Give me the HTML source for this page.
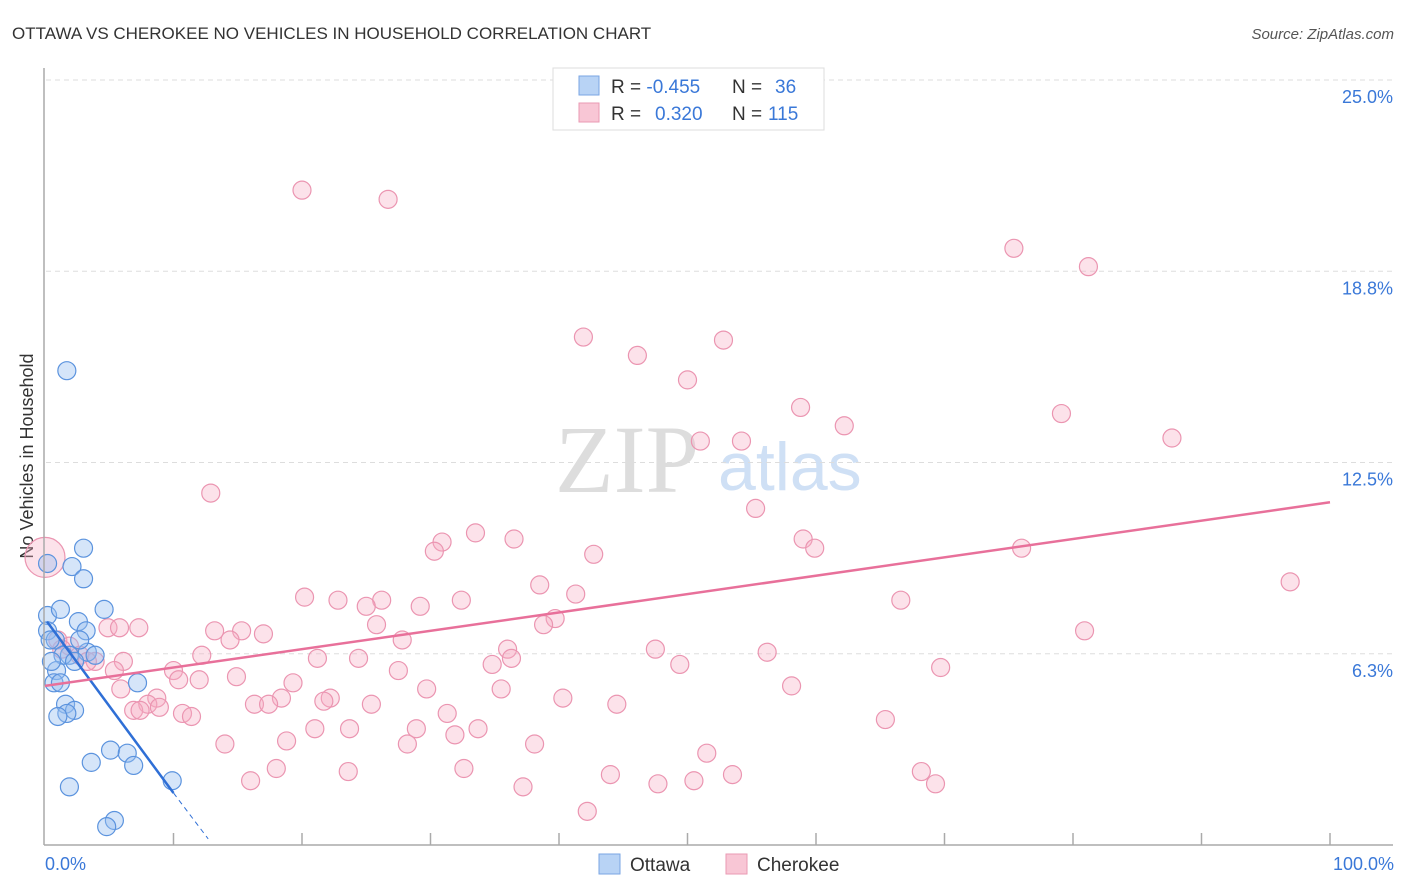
<!DOCTYPE html>
<html><head><meta charset="utf-8"><style>
body{margin:0;background:#fff;font-family:"Liberation Sans",sans-serif;}
#wrap{position:relative;width:1406px;height:892px;overflow:hidden;}
</style></head><body>
<div id="wrap">
<svg id="svg" width="1406" height="892" xmlns="http://www.w3.org/2000/svg">
<text x="12" y="39" font-size="17" fill="#333">OTTAWA VS CHEROKEE NO VEHICLES IN HOUSEHOLD CORRELATION CHART</text>
<text x="1394" y="39" font-size="15" fill="#555" text-anchor="end" font-style="italic">Source: ZipAtlas.com</text>
<text x="33" y="456" font-size="18" fill="#333" text-anchor="middle" transform="rotate(-90 33 456)">No Vehicles in Household</text>
<text x="555" y="492" font-size="96" fill="#ddd" font-family="Liberation Serif,serif">ZIP</text>
<text x="718" y="490" font-size="68" fill="#cfe0f5">atlas</text>
<g id="grid"></g><g id="pts"></g><g id="lines"></g>
<line x1="44" y1="68" x2="44" y2="845" stroke="#aaa" stroke-width="1.5"/>
<line x1="44" y1="845" x2="1393" y2="845" stroke="#aaa" stroke-width="1.5"/>
<text x="45" y="870" font-size="18" fill="#3a78d8">0.0%</text>
<text x="1394" y="870" font-size="18" fill="#3a78d8" text-anchor="end">100.0%</text>
<g>
<rect x="553" y="68" width="271" height="62" fill="#fff" stroke="#ddd"/>
<rect x="579" y="76" width="20" height="19" fill="#b8d3f5" stroke="#7aa6e3"/>
<rect x="579" y="103" width="20" height="19" fill="#f8c6d5" stroke="#ea9ab3"/>
<text x="611" y="93" font-size="19" fill="#333">R = <tspan fill="#3a78d8">-0.455</tspan><tspan x="732">N = </tspan><tspan x="775" fill="#3a78d8">36</tspan></text>
<text x="611" y="120" font-size="19" fill="#333">R = <tspan x="655" fill="#3a78d8">0.320</tspan><tspan x="732">N = </tspan><tspan x="768" fill="#3a78d8">115</tspan></text>
</g>
<g><rect x="599" y="854" width="21" height="20" fill="#b8d3f5" stroke="#7aa6e3"/><text x="630" y="871" font-size="19" fill="#333">Ottawa</text></g>
<g><rect x="726" y="854" width="21" height="20" fill="#f8c6d5" stroke="#ea9ab3"/><text x="757" y="871" font-size="19" fill="#333">Cherokee</text></g>
</svg></div>
<script>
const yTicks=[25,18.75,12.5,6.25];
const yTickLabels=["25.0%","18.8%","12.5%","6.3%"];
const ottawaX=[1.7,3.0,2.1,3.0,0.2,0.2,1.2,4.6,2.6,3.2,0.2,0.8,3.3,1.9,1.4,0.9,0.7,1.2,7.2,1.6,2.3,1.7,1.0,5.1,6.4,3.6,6.9,9.9,1.9,5.4,4.8,0.4,2.3,0.5,3.9,2.7];
const ottawaY=[15.5,9.7,9.1,8.7,9.2,7.5,7.7,7.7,7.3,7.0,7.0,6.7,6.3,6.2,6.2,5.7,5.3,5.3,5.3,4.6,4.4,4.3,4.2,3.1,3.0,2.7,2.6,2.1,1.9,0.8,0.6,6.7,6.0,6.0,6.2,6.7];
const cherokeeX=[20.0,26.7,75.4,81.2,41.9,52.8,46.1,50.0,58.8,79.1,62.2,51.0,54.2,87.7,12.9,55.3,33.5,30.9,36.5,30.3,42.7,59.0,59.9,76.0,96.9,38.5,41.3,20.2,22.8,26.2,32.4,25.0,29.2,66.6,39.7,25.8,38.8,7.3,4.9,13.2,15.3,14.4,17.0,27.8,80.9,36.0,47.5,56.2,6.1,12.2,21.2,24.4,36.3,49.4,34.8,10.0,5.4,14.9,27.5,69.7,10.4,12.0,19.3,29.7,35.5,58.1,5.9,18.4,16.3,17.4,22.2,21.7,40.3,8.7,8.0,6.9,25.4,44.5,10.7,11.4,31.3,65.4,28.9,21.0,23.7,33.7,31.9,14.0,18.8,28.2,38.1,51.5,18.0,23.6,32.6,68.2,44.0,53.5,50.5,16.0,47.7,69.3,37.2,42.2,1.0,1.9,2.7,3.9,5.8,1.3,3.3,8.9,7.4,0.0];
const cherokeeY=[21.4,21.1,19.5,18.9,16.6,16.5,16.0,15.2,14.3,14.1,13.7,13.2,13.2,13.3,11.5,11.0,10.2,9.9,10.0,9.6,9.5,10.0,9.7,9.7,8.6,8.5,8.2,8.1,8.0,8.0,8.0,7.8,7.8,8.0,7.4,7.2,7.2,7.1,7.1,7.0,7.0,6.7,6.9,6.7,7.0,6.4,6.4,6.3,6.0,6.2,6.1,6.1,6.1,5.9,5.9,5.7,5.7,5.5,5.7,5.8,5.4,5.4,5.3,5.1,5.1,5.2,5.1,4.8,4.6,4.6,4.8,4.7,4.8,4.8,4.6,4.4,4.6,4.6,4.3,4.2,4.3,4.1,3.8,3.8,3.8,3.8,3.6,3.3,3.4,3.3,3.3,3.0,2.5,2.4,2.5,2.4,2.3,2.3,2.1,2.1,2.0,2.0,1.9,1.1,6.7,6.5,6.2,6.0,7.1,6.4,6.0,4.5,4.4,9.4];
const ottawaTrend=[[0,7.3],[10,1.7],[12.7,0.2]];
const cherokeeTrend=[[0,5.2],[100,11.2]];
const NS="http://www.w3.org/2000/svg";
const xS=v=>45+12.85*v, yS=v=>845-30.6*v;
function mk(tag,at,parent){const e=document.createElementNS(NS,tag);for(const k in at)e.setAttribute(k,at[k]);parent.appendChild(e);return e;}
const grid=document.getElementById('grid'),pts=document.getElementById('pts'),lines=document.getElementById('lines');
yTicks.forEach((t,i)=>{
 const l=mk('line',{x1:46,x2:1393,y1:yS(t),y2:yS(t),stroke:'#ddd','stroke-dasharray':'5,4'},grid);
 
 
 const tx=mk('text',{x:1393,y:yS(t)+23,'font-size':18,fill:'#3a78d8','text-anchor':'end'},grid);
 tx.textContent=yTickLabels[i];
 
 
});
for(let k=1;k<=10;k++){
 const t=mk('line',{x1:xS(k*10),x2:xS(k*10),y1:833,y2:845,stroke:'#aaa','stroke-width':1.5},grid);
 
 
}
cherokeeX.forEach((x,i)=>{
 const big=(i===cherokeeX.length-1);
 const c=mk('circle',{cx:xS(x),cy:yS(cherokeeY[i]),r:big?20:9,fill:'rgba(246,172,196,0.35)',stroke:'#eb95b1','stroke-width':1.2},pts);
 
 
});
ottawaX.forEach((x,i)=>{
 const c=mk('circle',{cx:xS(x),cy:yS(ottawaY[i]),r:9,fill:'rgba(150,190,240,0.4)',stroke:'#5b93de','stroke-width':1.2},pts);
 
 
});
const o1=mk('line',{x1:xS(ottawaTrend[0][0])+2,y1:yS(ottawaTrend[0][1]),x2:xS(ottawaTrend[1][0]),y2:yS(ottawaTrend[1][1]),stroke:'#2f6fd6','stroke-width':2.5},lines);


const o2=mk('line',{x1:xS(ottawaTrend[1][0]),y1:yS(ottawaTrend[1][1]),x2:xS(ottawaTrend[2][0]),y2:yS(ottawaTrend[2][1]),stroke:'#2f6fd6','stroke-width':1,'stroke-dasharray':'5,4'},lines);


const c1=mk('line',{x1:xS(cherokeeTrend[0][0]),y1:yS(cherokeeTrend[0][1]),x2:xS(cherokeeTrend[1][0]),y2:yS(cherokeeTrend[1][1]),stroke:'#e8709a','stroke-width':2.5},lines);


</script>
</body></html>
